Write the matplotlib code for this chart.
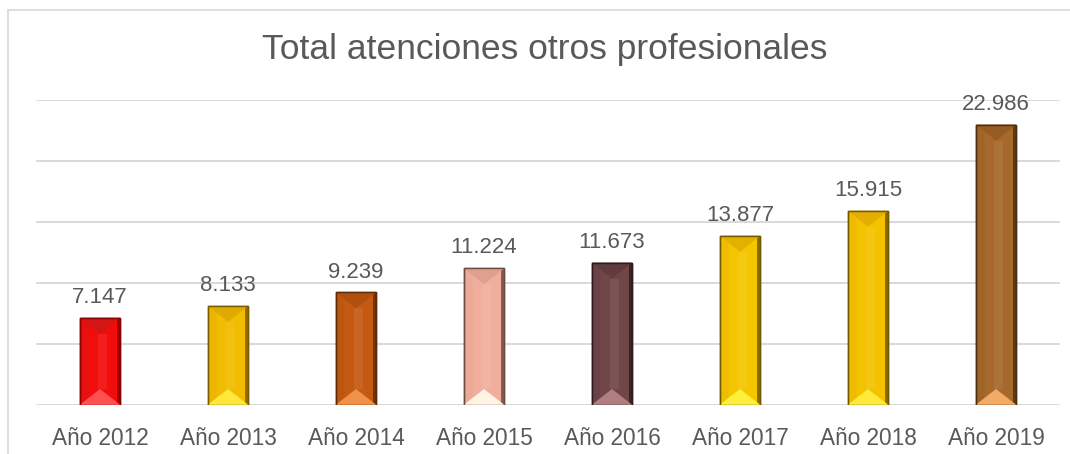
import numpy as np
import matplotlib
matplotlib.use("Agg")
import matplotlib.pyplot as plt
from matplotlib.patches import Polygon, Rectangle
from matplotlib.lines import Line2D

# data
years = ["Año 2012", "Año 2013", "Año 2014", "Año 2015",
         "Año 2016", "Año 2017", "Año 2018", "Año 2019"]
totals = [7147, 8133, 9239, 11224, 11673, 13877, 15915, 22986]

# colours per bar: base, top bevel, bottom bevel, edge
base_cols = ["#F20D0D", "#F2BC00", "#C45A12", "#F2AE9C",
             "#704649", "#F5C500", "#F5C200", "#A6692B"]
top_cols = ["#D41515", "#E0AA00", "#B0500F", "#E0A090",
            "#603C3F", "#E3B000", "#E3AE00", "#955D24"]
bot_cols = ["#FF5050", "#FFE83A", "#F0904A", "#FFF3E6",
            "#B07E80", "#FFEE3A", "#FFEA3A", "#F2AA66"]
edge_cols = ["#8B0000", "#7A5C00", "#5C2A05", "#6B4A40",
             "#2E1A1C", "#6F5A00", "#6F5A00", "#4A2E10"]

plt.rcParams['font.family'] = ['Liberation Sans', 'DejaVu Sans']
text_col = "#595959"
grid_col = "#D9D9D9"

W, H = 1070, 454
fig = plt.figure(figsize=(W / 100, H / 100), dpi=100)
ax = fig.add_axes([36 / W, 49 / H, 1024 / W, 305 / H])

x = np.arange(len(years))
bars = ax.bar(x, totals, width=0.32, color=base_cols, edgecolor=edge_cols,
              linewidth=1.0, zorder=3)

ax.set_xlim(-0.5, len(years) - 0.5)
ax.set_ylim(0, 25000)
ax.set_yticks(np.arange(0, 25001, 5000))
ax.yaxis.grid(True, color=grid_col, linewidth=1.4, zorder=0)
ax.set_axisbelow(True)
for s in ax.spines.values():
    s.set_visible(False)
ax.tick_params(axis='y', left=False, labelleft=False)
ax.tick_params(axis='x', bottom=False, pad=12, labelsize=16.3, labelcolor=text_col)
ax.set_xticks(x)
ax.set_xticklabels(years)

# bevel shading, depth in pixels converted to data units
units_per_px_y = 25000 / ax.bbox.height
units_per_px_x = len(years) / ax.bbox.width
d = 16 * units_per_px_y
for b, tc, bc, ec in zip(bars, top_cols, bot_cols, edge_cols):
    x0, w, h = b.get_x(), b.get_width(), b.get_height()
    x1, xc = x0 + w, x0 + w / 2
    # left darker strip
    ax.add_patch(Polygon([(x0, 0), (x0, h), (x0 + w * 0.22, h - d * 0.5),
                          (x0 + w * 0.22, d * 0.5)], closed=True,
                         facecolor=tc, alpha=0.35, edgecolor='none', zorder=4))
    # central highlight
    ax.add_patch(Rectangle((xc - w * 0.05, d), w * 0.22, h - 2 * d,
                           facecolor='white', alpha=0.07, edgecolor='none', zorder=4))
    # right dark strip
    ax.add_patch(Rectangle((x1 - 3 * units_per_px_x, 0), 3 * units_per_px_x, h,
                           facecolor=ec, alpha=0.8, edgecolor='none', zorder=4))
    # top and bottom bevels
    ax.add_patch(Polygon([(x0, h), (x1, h), (xc, h - d)], closed=True,
                         facecolor=tc, edgecolor='none', zorder=5))
    ax.add_patch(Polygon([(x0, 0), (x1, 0), (xc, d)], closed=True,
                         facecolor=bc, edgecolor='none', zorder=5))
    # outline again on top
    ax.add_patch(Rectangle((x0, 0), w, h, facecolor='none', edgecolor=ec,
                           linewidth=1.0, zorder=6))
    ax.annotate(f"{int(h):,}".replace(",", "."), (xc, h), xytext=(0, 7),
                textcoords="offset points", ha='center', va='bottom',
                fontsize=16, color=text_col)

fig.text(545 / W, 1 - 50 / H, "Total atenciones otros profesionales",
         ha='center', va='center', fontsize=25.5, color=text_col)

# chart frame (left and top edges visible)
fig.add_artist(Line2D([8 / W, 8 / W], [0, 1 - 10 / H], color=grid_col,
                      linewidth=1.2, transform=fig.transFigure))
fig.add_artist(Line2D([8 / W, 1], [1 - 10 / H, 1 - 10 / H], color=grid_col,
                      linewidth=1.2, transform=fig.transFigure))

fig.savefig("out.png", dpi=100)
